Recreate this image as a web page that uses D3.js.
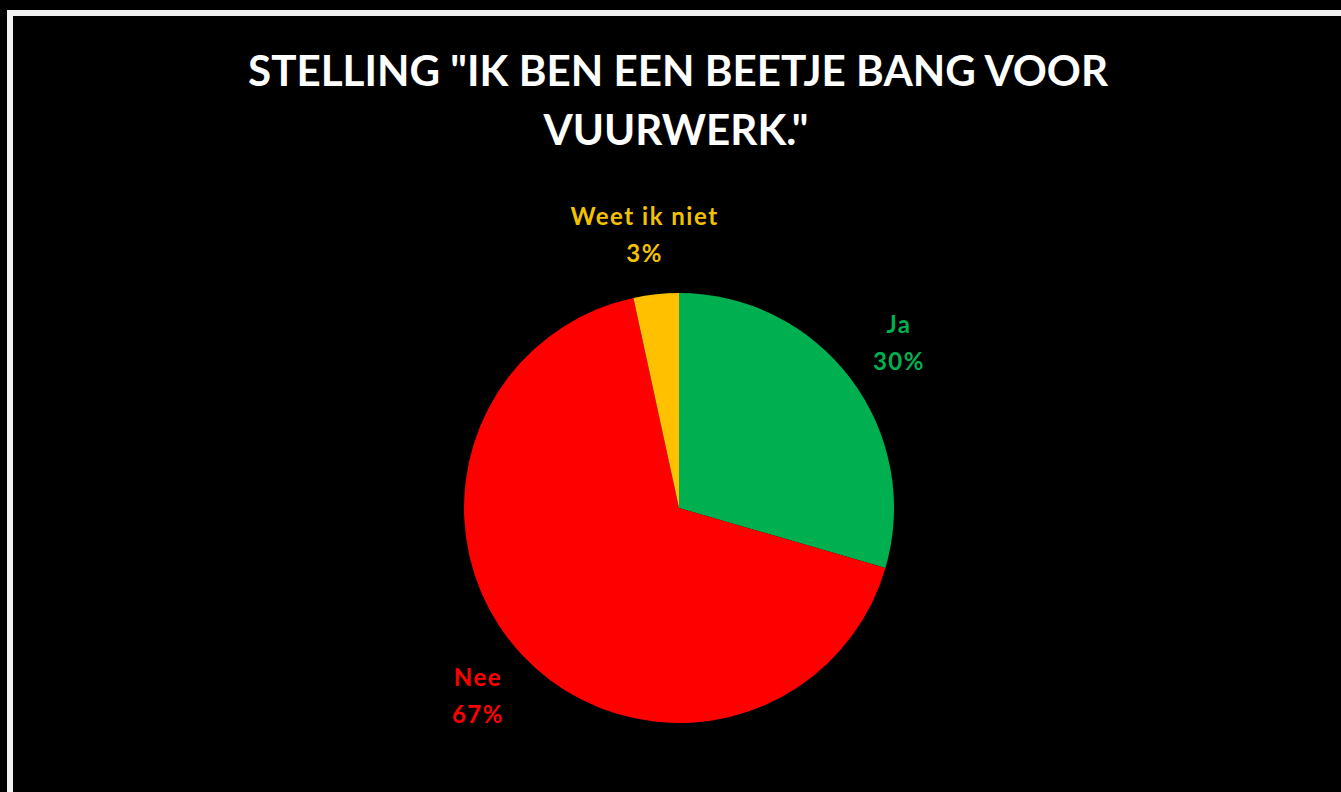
<!DOCTYPE html>
<html>
<head>
<meta charset="utf-8">
<script src="https://cdn.jsdelivr.net/npm/d3@7"></script>
<style>
  html, body { margin: 0; padding: 0; background: #000; overflow: hidden; }
  svg { display: block; }
</style>
</head>
<body>
<svg id="chart" width="1341" height="792"></svg>
<script>
const titleLines = ['STELLING "IK BEN EEN BEETJE BANG VOOR', 'VUURWERK."'];
const categories = ["Ja", "Nee", "Weet ik niet"];
const values = [29.5, 67.1, 3.4];
const pctLabels = ["30%", "67%", "3%"];
const colors = ["#00B050", "#FF0000", "#FFC000"];
const labelColors = ["#00B050", "#FF0000", "#F2C200"];

const svg = d3.select("#chart");
const W = 1341, H = 792;

svg.append("rect").attr("x", 0).attr("y", 0).attr("width", W).attr("height", H).attr("fill", "#000");
// white frame (only left & top edges visible)
svg.append("path").attr("d", `M10,${H + 10} L10,13 L${W + 10},13`)
  .attr("fill", "none").attr("stroke", "#f2f2f2").attr("stroke-width", 6);

// title
const title = svg.append("g").attr("font-family", "Lato, 'Open Sans', sans-serif")
  .attr("font-weight", "bold").attr("fill", "#fff").attr("text-anchor", "middle");
title.append("text").attr("x", 678).attr("y", 86).attr("font-size", 42)
  .attr("textLength", 860).attr("lengthAdjust", "spacingAndGlyphs").text(titleLines[0]);
title.append("text").attr("x", 676).attr("y", 145).attr("font-size", 42)
  .attr("textLength", 265).attr("lengthAdjust", "spacingAndGlyphs").text(titleLines[1]);

// pie
const cx = 679, cy = 508, r = 215;
const data = categories.map((c, i) => ({ name: c, value: values[i], pct: pctLabels[i], color: colors[i], lc: labelColors[i] }));
const pie = d3.pie().value(d => d.value).sort(null);
const arc = d3.arc().innerRadius(0).outerRadius(r);
const arcs = pie(data);

const g = svg.append("g").attr("transform", `translate(${cx},${cy})`);
g.selectAll("path").data(arcs).join("path")
  .attr("d", arc).attr("fill", d => d.data.color);

// labels
const fs = 24, lh = 37;
const lg = g.append("g").attr("font-family", "Lato, 'Open Sans', sans-serif")
  .attr("font-weight", "bold").attr("font-size", fs).attr("letter-spacing", "1.5px")
  .attr("text-anchor", "middle");
arcs.forEach(a => {
  const mid = (a.startAngle + a.endAngle) / 2;
  const R = r + 34;
  const t1 = lg.append("text").text(a.data.name);
  const t2 = lg.append("text").text(a.data.pct);
  const w = Math.max(t1.node().getComputedTextLength(), t2.node().getComputedTextLength());
  t1.remove(); t2.remove();
  const h = 52;
  const x = Math.sin(mid) * R + Math.sin(mid) * w / 2;
  const y = -Math.cos(mid) * R - Math.cos(mid) * h / 2;
  const t = lg.append("text").attr("fill", a.data.lc);
  t.append("tspan").attr("x", x).attr("y", y - 10).text(a.data.name);
  t.append("tspan").attr("x", x).attr("y", y - 10 + lh).text(a.data.pct);
});
</script>
</body>
</html>
